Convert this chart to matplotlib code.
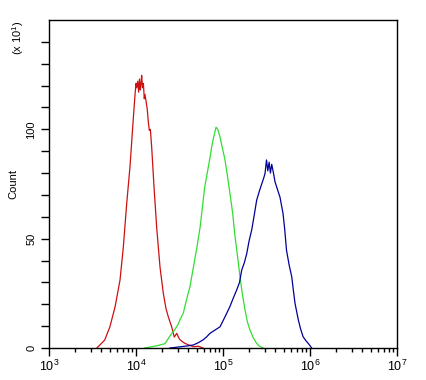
import numpy as np
import matplotlib
matplotlib.use("Agg")
import matplotlib.pyplot as plt
from matplotlib.ticker import FixedLocator, NullFormatter

plt.rcParams['font.family'] = ['Liberation Sans', 'DejaVu Sans']
plt.rcParams['mathtext.fontset'] = 'custom'
plt.rcParams['mathtext.rm'] = 'Liberation Sans'
plt.rcParams['mathtext.it'] = 'Liberation Sans'

# log10 fluorescence positions and counts (units of x10^1)
red_logx = [3.55, 3.64, 3.70, 3.76, 3.816, 3.854, 3.893, 3.931, 3.962, 3.989, 4.000,
            4.008, 4.020, 4.030, 4.040, 4.050, 4.058, 4.065, 4.075, 4.085, 4.095, 4.103,
            4.115, 4.130, 4.140, 4.153, 4.165, 4.18, 4.207, 4.238, 4.276, 4.314, 4.345,
            4.371, 4.39, 4.41, 4.44, 4.468, 4.50, 4.53, 4.563, 4.60, 4.66, 4.72, 4.77]
red_y = [0, 3.6, 9.7, 18.9, 31, 46, 66, 83, 101, 116, 121,
         119, 122, 117, 123, 118, 121, 124.7, 119, 121, 114, 116,
         113, 109, 104, 99.5, 100, 92, 73.7, 55, 37, 25, 18,
         14.3, 12, 9.7, 5, 6.7, 4, 3, 2.1, 1.5, 0.6, 0.8, 0]

green_logx = [4.10, 4.238, 4.333, 4.41, 4.44, 4.486, 4.506, 4.544, 4.58, 4.62, 4.66, 4.70,
              4.736, 4.755, 4.79, 4.81, 4.85, 4.87, 4.89, 4.92, 4.94, 4.966, 4.99, 5.023,
              5.05, 5.08, 5.11, 5.138, 5.17, 5.195, 5.225, 5.253, 5.28, 5.31, 5.35, 5.387,
              5.42, 5.46]
green_y = [0, 1, 2, 6.7, 8, 11, 13, 16, 22, 28, 37, 46,
           55, 61.5, 73.7, 78, 87, 92, 96, 101, 100, 96.5, 92, 86,
           79, 70.6, 62, 51, 41, 32.6, 24, 17.4, 12, 8.2, 4.5, 2.1,
           0.8, 0]

blue_logx = [4.39, 4.50, 4.60, 4.66, 4.72, 4.77, 4.81, 4.85, 4.90, 4.966, 5.02, 5.08,
             5.12, 5.157, 5.19, 5.215, 5.245, 5.272, 5.30, 5.33, 5.36, 5.387, 5.42, 5.445,
             5.47, 5.483, 5.50, 5.515, 5.53, 5.545, 5.56, 5.58, 5.598, 5.63, 5.655, 5.69,
             5.71, 5.73, 5.76, 5.79, 5.81, 5.828, 5.866, 5.89, 5.92, 5.95, 5.98, 6.02]
blue_y = [0, 0.5, 1, 1.4, 2.5, 3.7, 5, 6.7, 8, 9.7, 14, 19,
          23, 26.5, 30, 35.6, 39, 43, 49, 54, 61, 67.6, 72, 75,
          78, 79.8, 86, 81, 85, 80, 84, 80, 76, 72, 69, 61.5,
          54, 44.7, 38, 32.6, 26, 20.4, 12.8, 9, 5.2, 3.5, 2.1, 0]

xlim_exp = (3, 7)
ylim = (0, 150)
y_labels = [0, 50, 100]

fig = plt.figure(figsize=(4.26, 3.80), dpi=100)
ax = fig.add_axes([49/426, 32/380, 348/426, 328/380])

ax.plot(10**np.array(red_logx), red_y, color='#cc1111', lw=0.9)
ax.plot(10**np.array(green_logx), green_y, color='#33dd33', lw=0.9)
ax.plot(10**np.array(blue_logx), blue_y, color='#000099', lw=0.9)

ax.set_xscale('log')
ax.set_xlim(10**xlim_exp[0], 10**xlim_exp[1])
ax.set_ylim(*ylim)

majors = [10**e for e in range(xlim_exp[0], xlim_exp[1] + 1)]
ax.xaxis.set_major_locator(FixedLocator(majors))
ax.set_xticklabels([f'$10^{{{e}}}$' for e in range(xlim_exp[0], xlim_exp[1] + 1)])
minors = [m * 10**e for e in range(xlim_exp[0], xlim_exp[1]) for m in range(2, 10)]
ax.xaxis.set_minor_locator(FixedLocator(minors))
ax.xaxis.set_minor_formatter(NullFormatter())

ax.yaxis.set_major_locator(FixedLocator(y_labels))
ax.yaxis.set_minor_locator(FixedLocator(list(range(10, 150, 10))))
ax.set_yticklabels([str(v) for v in y_labels], rotation=90, va='center')

ax.tick_params(axis='x', which='major', length=6, width=1, labelsize=9, pad=2)
ax.tick_params(axis='x', which='minor', length=3, width=1)
ax.tick_params(axis='y', which='both', length=6, width=1, labelsize=8, pad=3)

for s in ax.spines.values():
    s.set_linewidth(1)

ax.set_ylabel('Count', fontsize=8)
ax.yaxis.set_label_coords(-(49 - 18) / 348, 0.5)
fig.text(18/426, 1 - 38/380, r'(x 10$^{1}$)', rotation=90, fontsize=8,
         ha='center', va='center')

fig.savefig('out.png', dpi=100)
